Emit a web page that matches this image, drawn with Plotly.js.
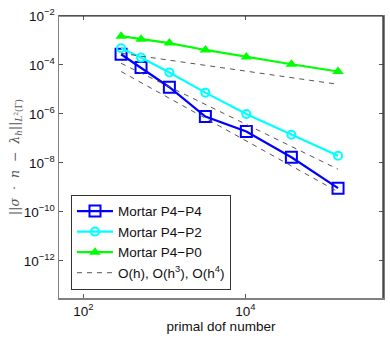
<!DOCTYPE html>
<html>
<head>
<meta charset="utf-8">
<script src="https://cdn.plot.ly/plotly-3.0.1.min.js"></script>
<style>html,body{margin:0;padding:0;background:#fff;}#plot{width:390px;height:339px;}</style>
</head>
<body>
<div id="plot"></div>
<script>
// primal dof numbers (x)
const dofs = [292, 515, 1153, 3206, 10280, 36980, 139300];
// error values per series
const mortarP4P4 = [2.74e-4, 7.8e-5, 1.23e-5, 7.8e-7, 1.9e-7, 1.7e-8, 9.3e-10];
const mortarP4P2 = [4.8e-4, 2.0e-4, 4.9e-5, 7.4e-6, 1.0e-6, 1.4e-7, 1.95e-8];
const mortarP4P0 = [1.5e-3, 1.12e-3, 7.8e-4, 4.1e-4, 2.1e-4, 1.07e-4, 5.4e-5];
// reference slopes: start / end values at first and last dof
const refOh  = [3.0e-4, 1.62e-5];
const refOh3 = [1.17e-4, 5.5e-9];
const refOh4 = [5.4e-5, 6.6e-10];
const seriesNames = ['Mortar P4\u2212P4', 'Mortar P4\u2212P2', 'Mortar P4\u2212P0', 'O(h), O(h<sup>3</sup>), O(h<sup>4</sup>)'];
const xTickVals = [100, 10000];
const xTickText = ['10<sup>2</sup>', '10<sup>4</sup>'];
const yTickVals = [1e-2, 1e-4, 1e-6, 1e-8, 1e-10, 1e-12];
const yTickText = ['10<sup>\u22122</sup>', '10<sup>\u22124</sup>', '10<sup>\u22126</sup>', '10<sup>\u22128</sup>', '10<sup>\u221210</sup>', '10<sup>\u221212</sup>'];

const xFirst = dofs[0], xLast = dofs[dofs.length - 1];
const refX = [xFirst, xLast, null, xFirst, xLast, null, xFirst, xLast];
const refY = [refOh[0], refOh[1], null, refOh3[0], refOh3[1], null, refOh4[0], refOh4[1]];

const traces = [
  {x: dofs, y: mortarP4P4, name: seriesNames[0], mode: 'lines+markers',
   line: {color: '#0000ff', width: 2.2},
   marker: {symbol: 'square-open', size: 11, color: '#0000ff', line: {width: 2, color: '#0000ff'}}},
  {x: dofs, y: mortarP4P2, name: seriesNames[1], mode: 'lines+markers',
   line: {color: '#00ffff', width: 2.2},
   marker: {symbol: 'circle-open', size: 8, color: '#00ffff', line: {width: 2, color: '#00ffff'}}},
  {x: dofs, y: mortarP4P0, name: seriesNames[2], mode: 'lines+markers',
   line: {color: '#00ff00', width: 2.2},
   marker: {symbol: 'triangle-up', size: 10, color: '#00ff00'}},
  {x: refX, y: refY, name: seriesNames[3], mode: 'lines', connectgaps: false,
   line: {color: '#555555', width: 1, dash: '5px,5px'}}
];

const layout = {
  width: 390, height: 339,
  margin: {l: 59, r: 7, t: 16, b: 41},
  paper_bgcolor: '#ffffff', plot_bgcolor: '#ffffff',
  font: {family: 'Liberation Sans, Arial, sans-serif', size: 12, color: '#111'},
  showlegend: true,
  legend: {x: 0.037, y: 0.366, xanchor: 'left', yanchor: 'top',
           bgcolor: '#ffffff', bordercolor: '#333333', borderwidth: 1,
           font: {size: 13.5, color: '#111'}, tracegroupgap: 0, itemwidth: 36},
  xaxis: {type: 'log', range: [Math.log10(50), Math.log10(500000)],
          tickvals: xTickVals, ticktext: xTickText,
          ticks: 'inside', ticklen: 4, tickcolor: '#555', tickwidth: 1,
          showline: true, linecolor: '#808080', linewidth: 1.5, mirror: 'ticks',
          showgrid: false, zeroline: false,
          tickfont: {size: 13.5, color: '#111'},
          title: {text: 'primal dof number', font: {size: 13.5, color: '#111'}, standoff: 3}},
  yaxis: {type: 'log', range: [-13.52, -2],
          tickvals: yTickVals, ticktext: yTickText,
          ticks: 'inside', ticklen: 4, tickcolor: '#555', tickwidth: 1,
          showline: true, linecolor: '#808080', linewidth: 1.5, mirror: 'ticks',
          showgrid: false, zeroline: false,
          tickfont: {size: 13.5, color: '#111'}},
  shapes: [
    {type: 'line', xref: 'paper', yref: 'paper', x0: 0, x1: 1, y0: 1, y1: 1, line: {color: '#222', width: 1.2}},
    {type: 'line', xref: 'paper', yref: 'paper', x0: 1, x1: 1, y0: 0, y1: 1, line: {color: '#222', width: 1.2}}
  ],
  annotations: [
    {xref: 'paper', yref: 'paper', x: -0.136, y: 0.5, xanchor: 'center', yanchor: 'middle',
     textangle: -90, showarrow: false,
     text: '||<i>\u03c3</i>  \u00b7  <i>n</i>  \u2212  <i>\u03bb</i><sub><i>h</i></sub>||<sub><i>L</i><sup>2</sup>(\u0393)</sub>',
     font: {family: 'DejaVu Serif, Liberation Serif, serif', size: 12.5, color: '#555'}}
  ]
};

Plotly.newPlot('plot', traces, layout, {displayModeBar: false, staticPlot: true});
</script>
</body>
</html>
